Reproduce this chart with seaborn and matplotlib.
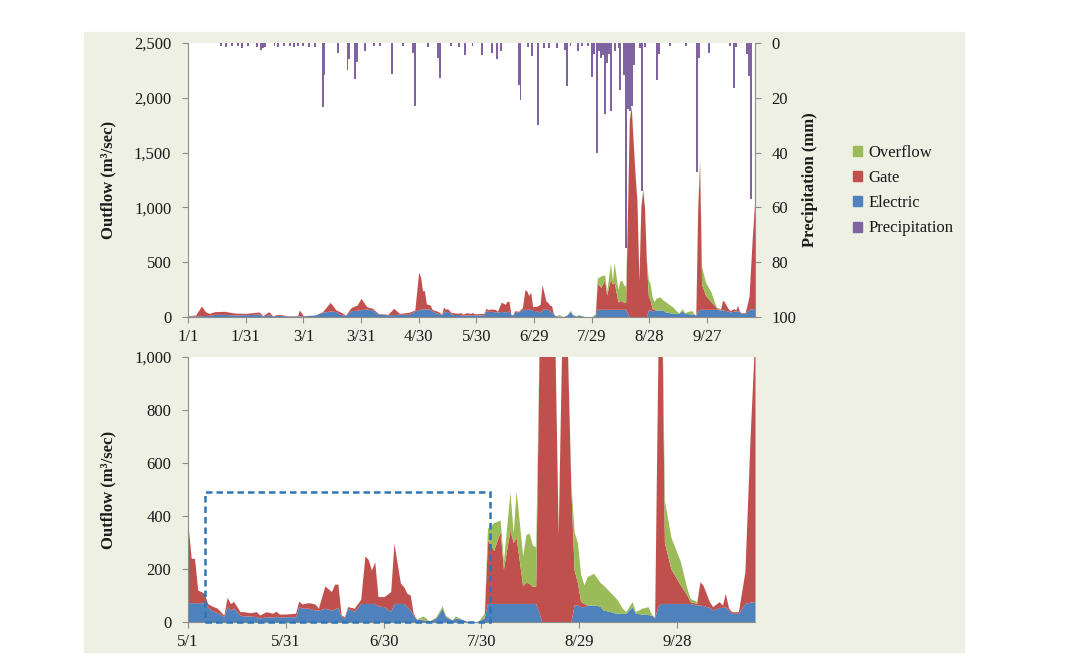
import numpy as np
import matplotlib
matplotlib.use('Agg')
import matplotlib.pyplot as plt
from matplotlib.patches import Patch, Rectangle
import seaborn as sns

# ── Data (day of year, 0 = 1/1, leap year) ──────────────────────────────────
days = [0, 4, 7, 9, 11, 14, 19, 24, 30, 37,
        39, 42, 44, 47, 52, 57, 58, 60, 66, 70,
        74, 77, 79, 82, 85, 88, 90, 93, 96, 99,
        104, 107, 110, 115, 118, 120, 121, 122, 123, 124,
        125, 126, 127, 128, 130, 132, 133, 134, 135, 137,
        138, 140, 142, 143, 145, 147, 148, 149, 151, 154,
        155, 156, 158, 160, 161, 163, 165, 166, 167, 168,
        169, 170, 172, 174, 175.3, 176.3, 177.3, 178.3, 179.3, 181.2,
        183.2, 184.2, 185.2, 186.2, 187.2, 188.2, 189.2, 190.1, 191.1, 193.1,
        195.1, 197.1, 199.0, 200.0, 202.0, 203.0, 205.0, 206.9, 209.9, 211.9,
        212.9, 214.8, 216.8, 217.8, 219.8, 220.8, 221.7, 223.7, 224.7, 225.7,
        226.7, 227.7, 228.7, 229.6, 230.6, 231.6, 232.6, 233.6, 234.6, 235.6,
        236.6, 237.5, 238.5, 239.5, 240.5, 241.5, 242.5, 243.5, 245.5, 247.4,
        248.4, 250.4, 252.4, 254.3, 255.3, 257.3, 258.3, 260.3, 262.2, 263.2,
        264.2, 265.2, 266.2, 267.2, 269.2, 272.1, 274.1, 275.1, 277.1, 278.1,
        279.0, 281.0, 282.0, 284.0, 285.0, 285.9, 286.9, 287.9, 289.9, 291.9,
        293.5, 295]

electric = [9, 10, 12, 14, 15, 24, 24, 18, 21, 27,
            10, 20, 10, 15, 9, 10, 10, 10, 18, 43,
            55, 49, 24, 15, 58, 62, 68, 73, 64, 27,
            20, 22, 25, 24, 55, 64, 73, 73, 73, 73,
            73, 70, 58, 45, 35, 20, 58, 45, 52, 26,
            23, 23, 20, 15, 20, 18, 22, 18, 20, 20,
            58, 52, 52, 45, 45, 52, 45, 50, 55, 20,
            15, 52, 40, 70, 70, 70, 70, 70, 60, 58,
            39, 70, 70, 70, 70, 58, 45, 26, 11, 8,
            4, 15, 52, 20, 8, 14, 11, 1, 1, 15,
            70, 70, 70, 70, 70, 70, 70, 70, 70, 70,
            70, 70, 35, 0, 0, 0, 0, 0, 0, 0,
            0, 0, 0, 64, 64, 58, 58, 64, 64, 60,
            45, 40, 33, 33, 33, 58, 33, 30, 28, 26,
            15, 60, 70, 70, 70, 70, 70, 70, 64, 64,
            62, 55, 45, 55, 55, 58, 45, 33, 33, 70,
            75, 77]

gate = [3, 8, 88, 35, 18, 25, 28, 18, 12, 19,
        2, 29, 2, 9, 3, 2, 54, 2, 0, 6,
        79, 15, 25, 3, 30, 47, 102, 21, 15, 6,
        4, 57, 8, 19, 9, 343, 293, 167, 167, 47,
        42, 38, 12, 17, 17, 6, 35, 25, 25, 13,
        16, 12, 19, 11, 19, 15, 19, 12, 10, 13,
        21, 16, 21, 23, 7, 84, 70, 93, 88, 6,
        5, 6, 12, 16, 180, 166, 126, 158, 36, 38,
        76, 227, 151, 76, 63, 50, 57, 7, 0, 2,
        0, 2, 2, 2, 0, 1, 0, 0, 0, 3,
        239, 200, 271, 130, 277, 230, 250, 67, 80, 76,
        65, 65, 965, 1800, 1919, 1600, 1300, 1050, 330, 1000,
        1160, 1000, 500, 132, 86, 19, 12, 0, 0, 0,
        0, 0, 0, 0, 0, 0, 0, 0, 0, 0,
        3, 940, 1330, 230, 130, 70, 32, 7, 6, 88,
        78, 22, 13, 22, 9, 50, 7, 6, 6, 120,
        625, 1023]

overflow = [0, 0, 0, 0, 0, 0, 0, 0, 0, 0,
            0, 0, 0, 0, 0, 0, 0, 0, 0, 0,
            0, 0, 0, 0, 0, 0, 0, 0, 0, 0,
            0, 0, 0, 0, 0, 0, 0, 0, 0, 0,
            0, 0, 0, 0, 0, 0, 0, 0, 0, 0,
            0, 0, 0, 0, 0, 0, 0, 0, 0, 0,
            0, 0, 0, 0, 0, 0, 0, 0, 0, 0,
            0, 0, 0, 0, 0, 0, 0, 0, 0, 0,
            0, 0, 0, 0, 0, 0, 0, 0, 0, 13,
            0, 3, 8, 4, 0, 8, 0, 0, 0, 15,
            44, 105, 44, 30, 143, 35, 175, 113, 180, 189,
            155, 149, 10, 10, 11, 10, 10, 10, 10, 10,
            10, 10, 20, 145, 150, 103, 70, 107, 120, 90,
            95, 74, 56, 19, 6, 19, 6, 22, 30, 4,
            2, 20, 50, 160, 120, 88, 25, 12, 7, 0,
            0, 0, 0, 0, 0, 0, 0, 0, 0, 0,
            0, 0]

precip_days = [17, 20, 23, 26, 28, 31, 36, 38, 39, 40,
               45, 47, 50, 53, 55, 57, 60, 63, 66, 70,
               71, 78, 83, 84, 87, 88, 92, 97, 100, 106,
               112, 117, 118, 125, 130, 131, 137, 141, 144, 148,
               153, 158, 161, 163, 172, 173, 177, 179, 182, 185,
               188, 192, 196, 197, 199, 203, 205, 208, 210, 211,
               213, 214, 215, 216, 217, 218, 219, 220, 222, 224,
               225, 227, 228, 229, 230, 231, 232, 235, 236, 238,
               244, 245, 251, 259, 265, 266, 271, 282, 284, 285,
               291, 292, 293]
precip_mm = [1, 1.5, 1, 1, 2, 1, 1.5, 2.5, 2, 1.5,
             1, 1.5, 1, 1, 1.5, 1, 1, 1.5, 1.5, 23.5,
             11.5, 3.5, 10, 6, 13, 7, 3, 1, 1, 11.3,
             1, 3.5, 23, 1.5, 5.5, 12.8, 1, 1.5, 4.3, 1,
             4.3, 3.6, 6, 3, 15.2, 20.7, 1.5, 4.9, 29.8, 1.8,
             1.8, 1.8, 2.4, 15.8, 1, 3, 1, 1, 12.5, 4,
             40.2, 3, 5.5, 4.5, 26, 7.3, 4, 24.7, 3, 2,
             17, 11.6, 75, 24, 25, 23, 8, 2, 54, 1.5,
             13.4, 4, 1, 1.2, 47, 5.5, 3.6, 1, 16.4, 1.5,
             4, 12, 57]

top_ticks = [0, 30, 60, 90, 120, 150, 180, 210, 240, 270]
top_labels = ['1/1', '1/31', '3/1', '3/31', '4/30', '5/30', '6/29', '7/29', '8/28', '9/27']
bot_ticks = [121, 151, 181, 211, 241, 271]
bot_labels = ['5/1', '5/31', '6/30', '7/30', '8/29', '9/28']

# ── Style ────────────────────────────────────────────────────────────────────
sns.set_style('white')
plt.rcParams['font.family'] = ['Liberation Serif', 'DejaVu Serif']

c_over, c_gate, c_elec, c_prec = '#9BBB59', '#C0504D', '#4F81BD', '#8064A2'
spine_c = '#8C8C8C'
txt_c = '#1A1A1A'

W, H = 1082, 667
fig = plt.figure(figsize=(W / 100, H / 100), dpi=100, facecolor='white')
fig.patches.append(Rectangle((84 / W, 1 - 652 / H), 880 / W, 620 / H,
                             transform=fig.transFigure, color='#EEF0E3', zorder=-5))

L, R = 188, 755
ax_t = fig.add_axes([L / W, 1 - 317 / H, (R - L) / W, (317 - 43) / H])
ax_b = fig.add_axes([L / W, 1 - 622 / H, (R - L) / W, (622 - 357) / H])


def style_axis(ax):
    for s in ['left', 'bottom']:
        ax.spines[s].set_color(spine_c)
        ax.spines[s].set_linewidth(0.8)
    ax.spines['top'].set_visible(False)
    ax.spines['right'].set_visible(False)
    ax.tick_params(axis='y', which='both', direction='out', length=4, width=0.8,
                   color=spine_c, labelsize=12, labelcolor=txt_c, pad=8, left=True)
    ax.tick_params(axis='x', which='both', direction='out', length=4, width=0.8,
                   color=spine_c, labelsize=12, labelcolor=txt_c, pad=5, bottom=True)
    ax.set_facecolor('white')


# --- Top chart: full period with precipitation ---
ax_t.stackplot(days, electric, gate, overflow, colors=[c_elec, c_gate, c_over], lw=0)
ax_t.set_xlim(0, 295)
ax_t.set_ylim(0, 2500)
ax_t.set_yticks([0, 500, 1000, 1500, 2000, 2500])
ax_t.set_yticklabels(['0', '500', '1,000', '1,500', '2,000', '2,500'])
ax_t.set_xticks(top_ticks)
ax_t.set_xticklabels(top_labels)
style_axis(ax_t)
ax_t.set_ylabel('Outflow (m³/sec)', fontsize=12, fontweight='bold', color=txt_c)
ax_t.yaxis.set_label_coords(-0.127, 0.5)

ax_p = ax_t.twinx()
ax_p.bar(precip_days, precip_mm, width=1.0, color=c_prec, lw=0)
ax_p.set_ylim(100, 0)
ax_p.set_xlim(0, 295)
ax_p.set_yticks([0, 20, 40, 60, 80, 100])
for s in ['top', 'left', 'bottom']:
    ax_p.spines[s].set_visible(False)
ax_p.spines['right'].set_color(spine_c)
ax_p.spines['right'].set_linewidth(0.8)
ax_p.tick_params(axis='y', direction='out', length=4, width=0.8, color=spine_c,
                 labelsize=12, labelcolor=txt_c, pad=8, right=True)
ax_p.set_ylabel('Precipitation (mm)', fontsize=12, fontweight='bold', color=txt_c,
                rotation=90)
ax_p.yaxis.set_label_coords(1.083, 0.5)

# --- Bottom chart: zoom from 5/1 ---
ax_b.stackplot(days, electric, gate, overflow, colors=[c_elec, c_gate, c_over], lw=0)
ax_b.set_xlim(121, 295)
ax_b.set_ylim(0, 1000)
ax_b.set_yticks([0, 200, 400, 600, 800, 1000])
ax_b.set_yticklabels(['0', '200', '400', '600', '800', '1,000'])
ax_b.set_xticks(bot_ticks)
ax_b.set_xticklabels(bot_labels)
style_axis(ax_b)
ax_b.set_ylabel('Outflow (m³/sec)', fontsize=12, fontweight='bold', color=txt_c)
ax_b.yaxis.set_label_coords(-0.127, 0.5)

# dashed highlight box
ax_b.add_patch(Rectangle((126.3, 0), 87.5, 490, fill=False, ec='#2E75B6', lw=1.8,
                         ls=(0, (2.6, 1.6)), clip_on=False, zorder=5))

# --- Legend ---
handles = [Patch(color=c_over, label='Overflow'),
           Patch(color=c_gate, label='Gate'),
           Patch(color=c_elec, label='Electric'),
           Patch(color=c_prec, label='Precipitation')]
fig.legend(handles=handles, loc='upper left', bbox_to_anchor=(853 / W, 1 - 145 / H),
           frameon=False, fontsize=12, handlelength=0.55, handleheight=0.55,
           handletextpad=0.4, labelspacing=0.55, borderpad=0, borderaxespad=0,
           labelcolor=txt_c)

plt.savefig('out.png', dpi=100, facecolor='white')
